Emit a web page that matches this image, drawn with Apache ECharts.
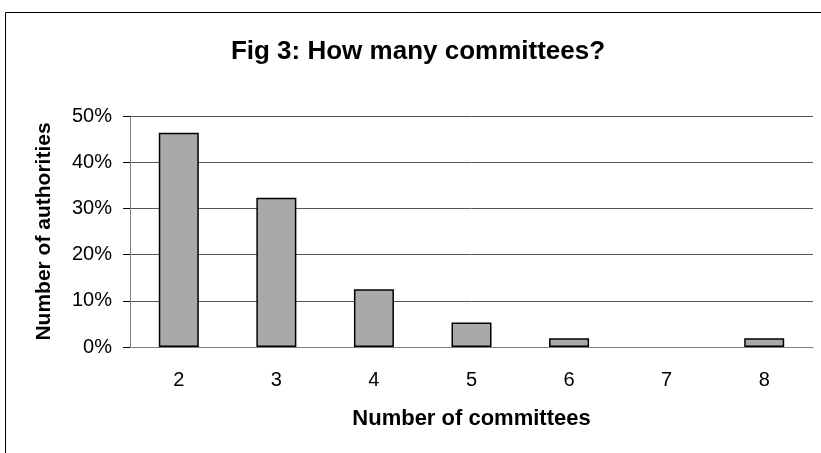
<!DOCTYPE html>
<html>
<head>
<meta charset="utf-8">
<script src="https://cdn.jsdelivr.net/npm/echarts@6/dist/echarts.min.js"></script>
<style>
  html, body { margin: 0; padding: 0; background: #fff; }
  #chart { width: 821px; height: 453px; }
</style>
</head>
<body>
<div id="chart"></div>
<script>
// number of committees per authority
const categories = ['2', '3', '4', '5', '6', '7', '8'];
const shares = [0.464, 0.323, 0.125, 0.053, 0.019, 0, 0.019];

const chart = echarts.init(document.getElementById('chart'));
const font = '"Liberation Sans", Arial, sans-serif';

chart.setOption({
  animation: false,
  backgroundColor: '#fff',
  graphic: [{
    type: 'rect',
    shape: { x: 5.5, y: 12.5, width: 900, height: 500 },
    style: { fill: 'none', stroke: '#000', lineWidth: 1 },
    silent: true
  }],
  title: {
    text: 'Fig 3: How many committees?',
    left: 413,
    top: 34,
    textAlign: 'center',
    textStyle: { fontFamily: font, fontWeight: 'bold', fontSize: 26, color: '#000' }
  },
  grid: { left: 130, right: 8, top: 116, bottom: 106 },
  xAxis: {
    type: 'category',
    data: categories,
    name: 'Number of committees',
    nameLocation: 'middle',
    nameGap: 61,
    nameTextStyle: { fontFamily: font, fontWeight: 'bold', fontSize: 22, color: '#000' },
    axisLine: { lineStyle: { color: '#808080', width: 1 } },
    axisTick: { length: 7, lineStyle: { color: '#000' } },
    axisLabel: { fontFamily: font, fontSize: 20, color: '#000', margin: 23 }
  },
  yAxis: {
    type: 'value',
    min: 0,
    max: 0.5,
    interval: 0.1,
    name: 'Number of authorities',
    nameLocation: 'middle',
    nameGap: 75,
    nameTextStyle: { fontFamily: font, fontWeight: 'bold', fontSize: 21, color: '#000' },
    axisLine: { show: true, lineStyle: { color: '#808080', width: 1 } },
    axisTick: { show: true, length: 7, lineStyle: { color: '#000' } },
    axisLabel: {
      fontFamily: font, fontSize: 20, color: '#000', margin: 18,
      formatter: v => Math.round(v * 100) + '%'
    },
    splitLine: { lineStyle: { color: '#555', width: 1 } }
  },
  series: [{
    type: 'bar',
    // a zero share draws no bar at all
    data: shares.map(v => (v === 0 ? '-' : v)),
    barWidth: '41%',
    itemStyle: { color: '#a9a9a9', borderColor: '#000', borderWidth: 1.5 }
  }]
});
</script>
</body>
</html>
